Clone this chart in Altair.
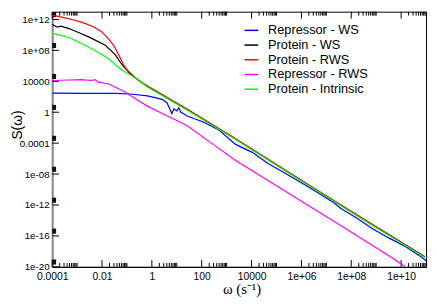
import math
import altair as alt
import pandas as pd

# ---------------- data (log10 values) ----------------
series_names = ["Repressor - WS", "Protein - WS", "Protein - RWS",
                "Repressor - RWS", "Protein - Intrinsic"]
series_colors = ["#0000ff", "#000000", "#ff0000", "#ff00ff", "#00ff00"]

rep_ws_logw = [-4.00, -2.82, -1.48, -0.85, -0.18, 0.21, 0.41, 0.61, 0.72, 0.80,
               0.88, 1.00, 1.08, 1.16, 1.28, 1.39, 2.06, 2.69, 3.36, 4.03,
               4.66, 5.33, 6.00, 6.63, 7.30, 7.57, 8.20, 8.87, 9.54, 10.17,
               10.84, 11.00]
rep_ws_logS = [2.46, 2.44, 2.44, 2.36, 2.12, 1.82, 1.66, 1.20, 0.42, -0.20,
               0.42, 0.17, 0.58, -0.01, -0.20, -0.45, -1.27, -2.30, -4.16, -5.19,
               -6.63, -7.87, -9.11, -10.35, -11.71, -12.41, -13.65, -15.09, -16.32, -17.36,
               -18.80, -19.22]

prot_ws_logw = [-4.00, -3.80, -3.65, -3.33, -2.94, -2.43, -1.87, -1.48, -1.24, -1.05,
                -0.81, -0.57, -0.18, 1.39, 3.36, 5.33, 6.91, 8.87, 10.96]
prot_ws_logS = [11.37, 11.00, 11.13, 10.82, 10.32, 9.58, 8.65, 7.48, 6.36, 5.62,
                4.88, 4.20, 3.35, 0.42, -3.45, -7.46, -10.66, -14.59, -18.70]

prot_rws_logw = [-4.00, -3.53, -3.13, -2.74, -2.35, -2.03, -1.76, -1.52, -1.32, -1.13,
                 -0.93, -0.69, -0.18, 1.39, 3.36, 5.33, 6.91, 8.87, 10.84]
prot_rws_logS = [12.55, 12.24, 11.93, 11.56, 11.06, 10.45, 9.58, 8.59, 7.35, 6.11,
                 5.12, 4.50, 3.39, 0.46, -3.42, -7.44, -10.63, -14.55, -18.51]

rep_rws_logw = [-4.00, -3.33, -2.82, -2.43, -2.27, -2.15, -1.76, -1.48, -1.09, -0.69,
                -0.18, 0.21, 1.39, 2.46, 3.36, 4.66, 6.00, 6.91, 8.20, 9.54, 10.17]
rep_rws_logS = [4.10, 4.17, 4.22, 4.10, 4.20, 3.89, 3.68, 3.27, 2.65, 1.82,
                0.79, 0.17, -1.68, -4.16, -6.23, -8.82, -11.52, -13.32, -15.92, -18.64, -20.00]

prot_int_logw = [-4.00, -3.33, -2.54, -1.76, -1.24, -0.69, -0.18, 1.39, 3.36, 5.33,
                 6.91, 8.87, 10.96]
prot_int_logS = [10.20, 9.67, 8.43, 6.98, 5.53, 4.50, 3.26, 0.33, -3.54, -7.55,
                 -10.75, -14.67, -18.80]

x_major = [1e-4, 1e-2, 1e0, 1e2, 1e4, 1e6, 1e8, 1e10]
x_labels = ["0.0001", "0.01", "1", "100", "10000", "1e+06", "1e+08", "1e+10"]
x_minor_mult = [2, 3, 4, 5, 6, 7, 8, 9, 10]
y_major = [1e-20, 1e-16, 1e-12, 1e-8, 1e-4, 1e0, 1e4, 1e8, 1e12]
y_labels = ["1e-20", "1e-16", "1e-12", "1e-08", "0.0001", "1", "10000", "1e+08", "1e+12"]

# ---------------- tables ----------------
all_series = [(rep_ws_logw, rep_ws_logS), (prot_ws_logw, prot_ws_logS),
              (prot_rws_logw, prot_rws_logS), (rep_rws_logw, rep_rws_logS),
              (prot_int_logw, prot_int_logS)]
rows = []
for name, (lw, ls) in zip(series_names, all_series):
    for a, b in zip(lw, ls):
        rows.append({"series": name, "w": 10 ** a, "S": 10 ** b})
df = pd.DataFrame(rows)

xt_major_df = pd.DataFrame({"w": x_major})
xt_minor_df = pd.DataFrame({"w": [v * m for v in x_major for m in x_minor_mult]})
yt_df = pd.DataFrame({"S": y_major})


def label_expr(vals, labs):
    expr = "''"
    for v, l in reversed(list(zip(vals, labs))):
        e = round(math.log10(v))
        expr = f"(abs(log(datum.value)/LN10 - ({e})) < 0.01 ? '{l}' : {expr})"
    return expr


W, H = 381, 260
xs = alt.Scale(type="log", domain=[1e-4, 1e11], nice=False)
ys = alt.Scale(type="log", domain=[1e-20, 1e13], nice=False)

x_axis = alt.Axis(values=x_major, labelExpr=label_expr(x_major, x_labels), ticks=False,
                  grid=False, domainColor="black", domainWidth=1,
                  labelFont="Liberation Sans", labelFontSize=10.5, labelColor="black",
                  labelPadding=5, labelFlush=False, labelOverlap=False,
                  title="ω (s⁻¹)", titleFont="Liberation Serif", titleFontSize=15,
                  titleFontWeight="normal", titleColor="black",
                  titleBaseline="alphabetic", titleY=27, titleX=193)
y_axis = alt.Axis(values=y_major, labelExpr=label_expr(y_major, y_labels), ticks=False,
                  grid=False, domainColor="#8a8a8a", domainWidth=2,
                  labelFont="Liberation Sans", labelFontSize=10, labelColor="black",
                  labelPadding=3, labelFlush=False, labelOverlap=False,
                  title="S(ω)", titleFont="Liberation Sans", titleFontSize=14,
                  titleFontWeight="normal", titleColor="black",
                  titleAngle=270, titleBaseline="alphabetic", titleAlign="center",
                  titleX=-31, titleY=115)

color = alt.Color("series:N",
                  scale=alt.Scale(domain=series_names, range=series_colors),
                  legend=alt.Legend(orient="none", legendX=195, legendY=11, title=None,
                                    symbolType="stroke", symbolSize=196,
                                    symbolStrokeWidth=1.5, labelFont="Liberation Sans",
                                    labelFontSize=13, labelColor="black", labelOffset=9,
                                    rowPadding=0, padding=0))

layers = []
# ticks (inward)
layers.append(alt.Chart(xt_major_df).mark_rule(color="black", strokeWidth=1).encode(
    x=alt.X("w:Q", scale=xs, axis=x_axis), y=alt.value(H), y2=alt.value(H - 7)))
layers.append(alt.Chart(xt_minor_df).mark_rule(color="black", strokeWidth=1).encode(
    x=alt.X("w:Q", scale=xs, axis=x_axis), y=alt.value(H), y2=alt.value(H - 4)))
layers.append(alt.Chart(xt_major_df).mark_rule(color="black", strokeWidth=1).encode(
    x=alt.X("w:Q", scale=xs, axis=x_axis), y=alt.value(0), y2=alt.value(7)))
layers.append(alt.Chart(xt_minor_df).mark_rule(color="black", strokeWidth=1).encode(
    x=alt.X("w:Q", scale=xs, axis=x_axis), y=alt.value(0), y2=alt.value(4)))
layers.append(alt.Chart(yt_df).mark_rule(color="black", strokeWidth=1).encode(
    y=alt.Y("S:Q", scale=ys, axis=y_axis), x=alt.value(0), x2=alt.value(7)))
layers.append(alt.Chart(yt_df).transform_calculate(
    lo="datum.S*pow(10,0.3)", hi="datum.S*pow(10,0.95)").mark_rect(color="#111111").encode(
    y=alt.Y("lo:Q", scale=ys, axis=y_axis), y2="hi:Q", x=alt.value(0), x2=alt.value(4)))

for name in series_names:
    layers.append(alt.Chart(df).transform_filter(alt.datum.series == name)
                  .mark_line(strokeWidth=1.2, clip=True).encode(
        x=alt.X("w:Q", scale=xs, axis=x_axis),
        y=alt.Y("S:Q", scale=ys, axis=y_axis),
        color=color))

chart = alt.layer(*layers).properties(
    width=W, height=H,
    autosize=alt.AutoSizeParams(type="none"),
    padding={"left": 45, "top": 1, "right": 2, "bottom": 31},
    background="white",
).configure_view(stroke="black", strokeWidth=1)

chart.save("out.html", embed_options={"renderer": "svg", "actions": False})
